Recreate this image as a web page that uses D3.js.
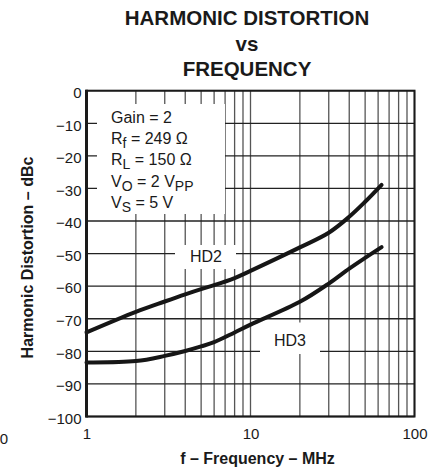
<!DOCTYPE html>
<html><head><meta charset="utf-8">
<script src="https://cdn.jsdelivr.net/npm/d3@7/dist/d3.min.js"></script>
<style>
html,body{margin:0;padding:0;background:#fff;}
svg{display:block;font-family:"Liberation Sans",Arial,Helvetica,sans-serif;}
</style></head>
<body>
<script>
// ---- data ----
const titleLines = ["HARMONIC DISTORTION", "vs", "FREQUENCY"];
const xLabel = "f \u2013 Frequency \u2013 MHz";
const yLabel = "Harmonic Distortion \u2013 dBc";
const xTickValues = [1, 10, 100];
const xGridValues = [1,2,3,4,5,6,7,8,9,10,20,30,40,50,60,70,80,90,100];
const yTickValues = [0,-10,-20,-30,-40,-50,-60,-70,-80,-90,-100];
const freq = [1, 2, 3, 4, 5, 6, 8, 10, 20, 30, 40, 50, 63];
const hd2  = [-74.2, -67.9, -64.7, -62.5, -60.9, -59.7, -57.5, -55.3, -48.1, -43.6, -38.7, -34.1, -28.9];
const hd3  = [-83.4, -83.0, -81.4, -79.9, -78.5, -77.2, -74.2, -71.8, -64.8, -59.2, -54.6, -51.3, -48.0];
const seriesNames = ["HD2", "HD3"];
const conditions = [
  [["Gain = 2", null]],
  [["R", null], ["f", "sub"], [" = 249 \u03A9", null]],
  [["R", null], ["L", "sub"], [" = 150 \u03A9", null]],
  [["V", null], ["O", "sub"], [" = 2 V", null], ["PP", "sub"]],
  [["V", null], ["S", "sub"], [" = 5 V", null]]
];

const W = 443, H = 470;
const svg = d3.select("body").append("svg").attr("width", W).attr("height", H);

const x = d3.scaleLog().domain([1, 100]).range([86.5, 414.5]);
const y = d3.scaleLinear().domain([-100, 0]).range([416.5, 90.7]);

// title
svg.append("g").selectAll("text").data(titleLines).join("text")
  .attr("x", 247).attr("y", (d, i) => [24.5, 51, 76][i])
  .attr("text-anchor", "middle").attr("font-weight", "bold").attr("font-size", 20.5)
  .attr("fill", "#1a1a1a").text(d => d);

// grid
const grid = svg.append("g");
grid.append("g").selectAll("line").data(xGridValues).join("line")
  .attr("x1", d => x(d)).attr("x2", d => x(d))
  .attr("y1", y(0)).attr("y2", y(-100))
  .attr("stroke", "#555").attr("stroke-width", 1.3);
grid.append("g").selectAll("line").data(yTickValues).join("line")
  .attr("x1", x(1)).attr("x2", x(100))
  .attr("y1", d => y(d)).attr("y2", d => y(d))
  .attr("stroke", "#222").attr("stroke-width", 1.3);

// white boxes hiding grid
svg.append("rect").attr("x", 97).attr("y", 104).attr("width", 128).attr("height", 110).attr("fill", "#fff");
svg.append("rect").attr("x", 175).attr("y", 245).attr("width", 61).attr("height", 24).attr("fill", "#fff");
svg.append("rect").attr("x", 260).attr("y", 322.5).attr("width", 60).attr("height", 31.5).attr("fill", "#fff");

// curves
const line = d3.line().x(d => x(d[0])).y(d => y(d[1])).curve(d3.curveCatmullRom.alpha(0.5));
[hd2, hd3].forEach(s => {
  svg.append("path").datum(freq.map((f, i) => [f, s[i]]))
    .attr("d", line).attr("fill", "none").attr("stroke", "#161616")
    .attr("stroke-width", 4).attr("stroke-linecap", "round").attr("stroke-linejoin", "round");
});

// frame
svg.append("rect").attr("x", x(1)).attr("y", y(0))
  .attr("width", x(100) - x(1)).attr("height", y(-100) - y(0))
  .attr("fill", "none").attr("stroke", "#1a1a1a").attr("stroke-width", 2);
svg.append("line").attr("x1", x(1)).attr("x2", x(1)).attr("y1", y(0) - 1).attr("y2", y(-100) + 1)
  .attr("stroke", "#1a1a1a").attr("stroke-width", 3);

// axes labels
const yAxis = d3.axisLeft(y).tickValues(yTickValues).tickSize(0).tickPadding(0)
  .tickFormat(d => d === 0 ? "0" : "\u2212" + Math.abs(d));
const ya = svg.append("g").attr("transform", "translate(81.5,0)").call(yAxis);
ya.select(".domain").remove();
ya.selectAll("text").attr("font-size", 15).attr("font-family", "Liberation Sans, Arial, sans-serif")
  .attr("fill", "#1a1a1a").attr("dy", "0.45em");

const xAxis = d3.axisBottom(x).tickValues(xTickValues).tickSize(0).tickPadding(0).tickFormat(d3.format("d"));
const xa = svg.append("g").attr("transform", "translate(0,428)").call(xAxis);
xa.select(".domain").remove();
xa.selectAll("text").attr("font-size", 15).attr("font-family", "Liberation Sans, Arial, sans-serif")
  .attr("fill", "#1a1a1a").attr("dy", "0.75em");

svg.append("text").attr("x", 257.5).attr("y", 464).attr("text-anchor", "middle")
  .attr("font-weight", "bold").attr("font-size", 16).attr("fill", "#1a1a1a").text(xLabel);
svg.append("text").attr("transform", "translate(32.5,257.5) rotate(-90)").attr("text-anchor", "middle")
  .attr("font-weight", "bold").attr("font-size", 16).attr("fill", "#1a1a1a").text(yLabel);

// stray cut-off label at left edge
svg.append("text").attr("x", 8).attr("y", 443.5).attr("text-anchor", "end")
  .attr("font-size", 15).attr("fill", "#1a1a1a").text("0");

// conditions legend
const cond = svg.append("g").attr("font-size", 16).attr("fill", "#1a1a1a");
conditions.forEach((parts, i) => {
  const t = cond.append("text").attr("x", 111).attr("y", 122.7 + i * 21.3);
  let shifted = false;
  parts.forEach(([s, kind]) => {
    const ts = t.append("tspan").text(s);
    if (kind === "sub") { ts.attr("font-size", 14).attr("dy", shifted ? 0 : 4); shifted = true; }
    else if (shifted) { ts.attr("dy", -4); shifted = false; }
  });
});

// series labels
svg.append("text").attr("x", 206).attr("y", 262).attr("text-anchor", "middle")
  .attr("font-size", 16).attr("fill", "#1a1a1a").text(seriesNames[0]);
svg.append("text").attr("x", 290).attr("y", 346).attr("text-anchor", "middle")
  .attr("font-size", 16).attr("fill", "#1a1a1a").text(seriesNames[1]);
</script>
</body></html>
